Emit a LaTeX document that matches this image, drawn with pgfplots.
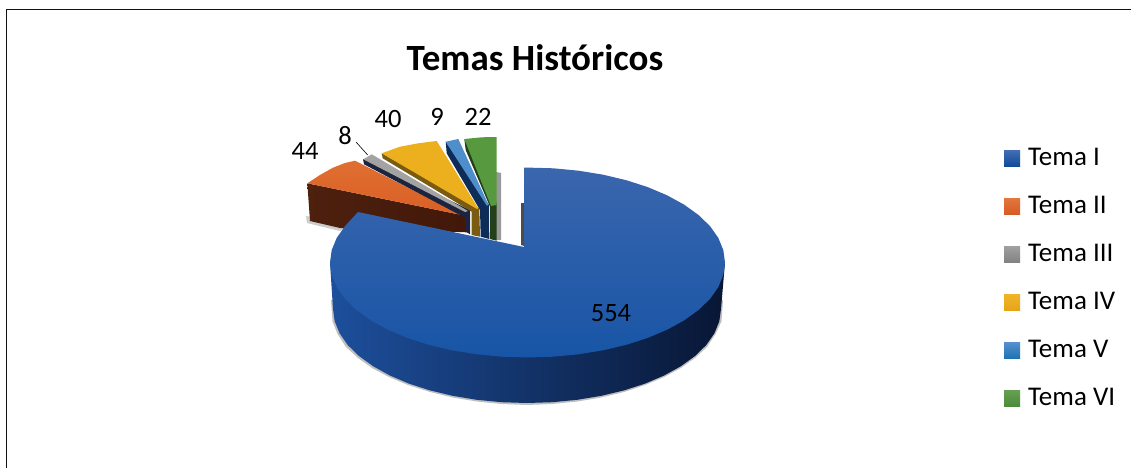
\documentclass[border=0pt]{standalone}
\usepackage{pgfplots}
\pgfplotsset{compat=1.18}
\usepackage{fontspec}
\setmainfont{Carlito}
\definecolor{frameblack}{HTML}{111111}
\begin{document}
\begin{tikzpicture}
\begin{axis}[
  scale only axis, width=1131pt, height=468pt,
  xmin=0, xmax=1131, ymin=0, ymax=468, y dir=reverse,
  axis lines=none, clip=true,
  legend style={at={(axis cs:1001,146)},anchor=north west,draw=none,fill=none,
    font=\fontsize{27}{29}\selectfont,row sep=30pt,column sep=8pt,
    nodes={text height=17pt,text depth=0pt,inner sep=0pt,anchor=base west}},
  legend cell align=left,
  legend image code/.code={\fill[draw=none,#1] (0pt,-1pt) rectangle (16pt,15pt);},
]
% page background
\addplot[fill=white,draw=none,forget plot] coordinates {(0,0) (1131,0) (1131,468) (0,468)};
% frame
\addplot[draw=frameblack,line width=1.3pt,forget plot] coordinates {(6.5,468) (6.5,9.5) (1131,9.5)};
% soft shadows
\addplot[fill=gray,fill opacity=.5,draw=none,forget plot] coordinates {(331,300) (332.5,321.3) (337.5,334) (346,347) (358,358) (372,368) (389,377) (408,385) (430,392) (452.7,397.5) (476.8,401.5) (501.7,404) (527,405) (552.3,404) (577.2,401.5) (601.3,397.5) (624,392) (645.1,385) (664.1,377) (680.9,368) (695,358) (707,347) (715.5,334) (721.5,321.3) (723,300)};
\addplot[fill=gray,fill opacity=.4,draw=none,forget plot] coordinates {(306,216) (307,223) (340,231) (350,225)};
\addplot[fill=gray!80,draw=none,forget plot] coordinates {(496,172) (501,173) (501,240) (496,240)};
\addplot[fill=gray!60!black,draw=none,forget plot] coordinates {(521,203) (524,203) (524,246) (521,245)};
% Tema II
\addplot[draw=none,left color={rgb,255:red,78;green,32;blue,14},right color={rgb,255:red,66;green,24;blue,10},forget plot] coordinates {(307.3,183.3) (461.7,215) (466.7,215) (466.7,232.3) (340,228) (310,221)};
\addplot[draw=none,top color={rgb,255:red,224;green,110;blue,50},bottom color={rgb,255:red,218;green,96;blue,36},forget plot] coordinates {(307.3,183.3) (320,175) (333,167.7) (345,163) (355,160.7) (461.7,215)};
% Tema III
\addplot[fill={rgb,255:red,28;green,36;blue,62},draw=none,forget plot] coordinates {(363,159) (364,164.3) (465,217.7) (465.7,231.7) (470,234.3) (470,210)};
\addplot[fill={rgb,255:red,163;green,163;blue,163},draw=none,forget plot] coordinates {(363.3,159.3) (371.7,154.3) (468,211) (465,212)};
% Tema IV
\addplot[fill={rgb,255:red,122;green,91;blue,16},draw=none,forget plot] coordinates {(381.7,153.3) (382.7,158.3) (471.7,211.7) (471.7,235) (480,236.7) (479.3,208.3)};
\addplot[draw=none,fill={rgb,255:red,236;green,175;blue,29},forget plot] coordinates {(381.7,153.3) (400,146.7) (418.3,143.3) (436.7,141) (478.3,208.3) (477,209)};
% Tema V
\addplot[fill={rgb,255:red,14;green,44;blue,88},draw=none,forget plot] coordinates {(445.7,141.7) (446.7,153.3) (480,210) (480.7,236.7) (489.3,239) (489,205)};
\addplot[fill={rgb,255:red,77;green,142;blue,203},draw=none,forget plot] coordinates {(445.7,141.7) (458.3,139) (488.3,204.3) (487,206)};
% Tema VI
\addplot[fill={rgb,255:red,36;green,64;blue,26},draw=none,forget plot] coordinates {(464.3,139) (465.7,150) (490,206.7) (490,239) (496.7,240.7) (496.7,203)};
\addplot[fill={rgb,255:red,86;green,153;blue,63},draw=none,forget plot] coordinates {(464.3,139) (481.7,137.3) (496.7,137) (496.7,205) (491,206)};
% Tema I side wall
\addplot[draw=none,left color={rgb,255:red,29;green,79;blue,156},middle color={rgb,255:red,15;green,40;blue,92},right color={rgb,255:red,8;green,22;blue,52},forget plot] coordinates {(330,262.5) (333,309) (334.7,321.3) (339.6,333.3) (347.7,345) (359,356) (373.1,366.2) (389.9,375.5) (408.9,383.6) (430,390.4) (452.7,395.8) (476.8,399.8) (501.7,402.2) (527,403) (552.3,402.2) (577.2,399.8) (601.3,395.8) (624,390.4) (645.1,383.6) (664.1,375.5) (680.9,366.2) (695,356) (706.3,345) (714.4,333.3) (719.3,321.3) (721,309) (725,262.5)};
% Tema I top
\addplot[draw=none,top color={rgb,255:red,58;green,102;blue,173},bottom color={rgb,255:red,24;green,85;blue,166},forget plot] coordinates {(524,247) (358,212) (345,226.1) (336.7,237.9) (331.7,250.1) (330,262.5) (331.7,274.9) (336.7,287.1) (345,298.9) (356.5,310) (370.8,320.3) (387.9,329.7) (407.3,337.9) (428.7,344.8) (451.9,350.3) (476.4,354.3) (501.7,356.7) (527.5,357.5) (553.3,356.7) (578.6,354.3) (603.1,350.3) (626.3,344.8) (647.7,337.9) (667.1,329.7) (684.2,320.3) (698.5,310) (710,298.9) (718.3,287.1) (723.3,274.9) (725,262.5) (723.3,250.1) (718.3,237.9) (710,226.1) (698.5,215) (684.2,204.7) (667.1,195.3) (647.7,187.1) (626.3,180.2) (603.1,174.7) (578.6,170.7) (553.3,168.3) (524,167.5)};
% leader line
\addplot[draw=black,line width=.6pt,forget plot] coordinates {(356,142) (367.7,155)};
% legend
\addlegendimage{top color={rgb,255:red,66;green,110;blue,180},bottom color={rgb,255:red,16;green,74;blue,155}}
\addlegendentry{Tema I}
\addlegendimage{top color={rgb,255:red,226;green,118;blue,62},bottom color={rgb,255:red,215;green,92;blue,36}}
\addlegendentry{Tema II}
\addlegendimage{top color={rgb,255:red,160;green,160;blue,160},bottom color={rgb,255:red,130;green,130;blue,130}}
\addlegendentry{Tema III}
\addlegendimage{top color={rgb,255:red,240;green,180;blue,40},bottom color={rgb,255:red,230;green,165;blue,25}}
\addlegendentry{Tema IV}
\addlegendimage{top color={rgb,255:red,85;green,145;blue,205},bottom color={rgb,255:red,30;green,115;blue,180}}
\addlegendentry{Tema V}
\addlegendimage{top color={rgb,255:red,100;green,160;blue,80},bottom color={rgb,255:red,75;green,140;blue,60}}
\addlegendentry{Tema VI}
% texts
\node[font=\fontsize{37}{40}\selectfont\bfseries,text=black] at (axis cs:535,58) {Temas Históricos};
\node[font=\fontsize{26.5}{28}\selectfont] at (axis cs:305,151) {44};
\node[font=\fontsize{26.5}{28}\selectfont] at (axis cs:345,136) {8};
\node[font=\fontsize{26.5}{28}\selectfont] at (axis cs:388,119) {40};
\node[font=\fontsize{26.5}{28}\selectfont] at (axis cs:437,117) {9};
\node[font=\fontsize{26.5}{28}\selectfont] at (axis cs:478,116.5) {22};
\node[font=\fontsize{26.5}{28}\selectfont] at (axis cs:611,313) {554};
\end{axis}
\end{tikzpicture}
\end{document}
